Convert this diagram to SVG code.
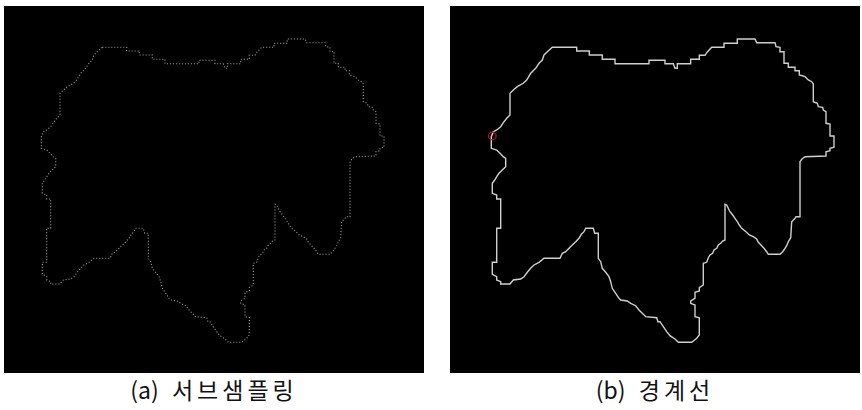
<svg xmlns="http://www.w3.org/2000/svg" xmlns:xlink="http://www.w3.org/1999/xlink" width="862" height="410" viewBox="0 0 862 410">
<style>
.bg{fill:#000}
.line{fill:none;stroke:#cfcfcf;stroke-width:1.4;stroke-linejoin:miter}
.dots{fill:none;stroke:#a8a8a8;stroke-width:1.1;stroke-dasharray:1 2}
.cap{font-family:"Noto Sans CJK KR","Noto Sans",sans-serif;font-size:23px;fill:#111;text-anchor:middle}
.ko{letter-spacing:4px}
</style>
<defs>
<path id="contour" d="M552.3,47.3 L576.7,47.3 L576.7,51 L589.3,51 L589.3,55 L602.3,55 L602.3,59.3 L615,59.3 L615,63.7 L649,63.7 L649,60.3 L665,60.3 L665,63.7 L673.3,63.7 L675,68.3 L677.3,68.3 L677.3,63.7 L690.7,63.7 L690.7,59.3 L699.3,59.3 L699.3,55.3 L705,55.3 L706.7,52.7 L711.7,47.3 L724,47.3 L724,43.3 L737.3,43.3 L737.3,39 L755,39 L756.7,42.7 L775,42.7 L776,46.7 L780,47.3 L780,51.7 L784,51.7 L784,63.3 L788.3,63.3 L788.3,67.3 L795,67.3 L795,70.7 L799.3,70.7 L799.3,75 L805,76.7 L808.3,80 L811.7,81.7 L813.3,84 L813.3,101.7 L817.3,103.3 L818.3,106.7 L822.7,107.3 L823.3,110 L826,111.7 L826,123.3 L830,124 L830,136 L834,136 L834,147.3 L830,148.3 L830,150.7 L826,151.7 L826,156 L805,156.7 L801.7,159.3 L800,161.7 L800,216.7 L796,216.7 L795,218.3 L791.7,221.7 L790.7,237.7 L788.3,241.7 L786.7,245.7 L785,248.3 L782.7,251.7 L780,254.3 L768.3,254.3 L766.7,251.7 L764,248.3 L761.7,245.7 L758.3,242.3 L756.7,239 L753.3,236.7 L749.3,235 L746,231.7 L741.7,228.3 L739.3,225 L737.3,221.7 L735,218.3 L732.7,215 L730,211.7 L728.3,208.3 L726.7,205 L725,204.3 L725,240 L722.7,241 L720.7,243.3 L718.3,245 L716.7,248.3 L714,250 L712.7,253.3 L710,255 L708.3,257.7 L706.7,262.3 L703.3,263.3 L703.3,285 L699.3,287.7 L699.3,291 L695,292.3 L695,298.3 L690.7,301 L690.7,303.3 L695,305 L695,316.7 L699.3,317.7 L699.3,335 L696.7,338.3 L691.7,342.3 L678.3,342.3 L675,339 L670,335.7 L666.7,331.7 L663.3,326.7 L660,321.7 L658,321.7 L656.7,317.7 L645.7,316.7 L642.3,313.3 L639,310 L635.7,305.7 L630.7,303.3 L627.3,301 L620.7,300 L619,298.3 L615.7,293.3 L612.3,288.3 L610.7,281.7 L609,276.7 L605.7,272.3 L602.3,268.3 L600.7,261.7 L598.3,258.3 L598.3,233.3 L594.7,233.3 L593.3,228.3 L585.7,228.3 L584,231.7 L581.3,234.3 L579,238.3 L575.7,241.7 L572.3,245 L569,248.3 L565.7,251.7 L562.3,253.3 L560,258.3 L544,258.3 L539,262.3 L534,265 L530.7,268.3 L527.3,272.3 L524,276.7 L520.7,279 L513.3,280 L510,284 L500.7,284 L500.7,281.7 L496.7,280 L496.7,276.7 L492.3,274.3 L492.3,262.3 L496.7,262.3 L496.7,228.3 L500.7,228.3 L500.7,199 L496.7,199 L496.7,195 L492.3,193.3 L492.3,183.3 L494.7,180 L496.7,176.7 L499,173.3 L502.3,170 L505.7,166.7 L505.7,158.3 L503.3,156.7 L500,153.3 L496.7,150 L491.3,148.3 L491.3,136.7 L493.3,131.7 L496.7,130 L500.7,126.7 L504,121.7 L506.7,118.3 L510,115 L510,93.3 L513.3,90 L517.3,86.7 L523.3,83.3 L526.7,80 L530.7,73.3 L535.7,68.3 L539,63.3 L542.3,60 L544,55 L547.3,51.7 Z"/>
</defs>
<rect width="862" height="410" fill="#fff"/>
<g id="panel-a">
<rect class="bg" x="4" y="6" width="420" height="367"/>
<use xlink:href="#contour" class="dots" transform="translate(-450,0)"/>
<text class="cap" x="214" y="399">(a) <tspan class="ko" dx="8">서브샘플링</tspan></text>
</g>
<g id="panel-b">
<rect class="bg" x="450" y="6" width="410" height="367"/>
<use xlink:href="#contour" class="line"/>
<circle cx="492.3" cy="136" r="3.8" fill="none" stroke="#c0141c" stroke-width="1.2"/>
<text class="cap" x="655" y="399">(b) <tspan class="ko" dx="8">경계선</tspan></text>
</g>
</svg>
